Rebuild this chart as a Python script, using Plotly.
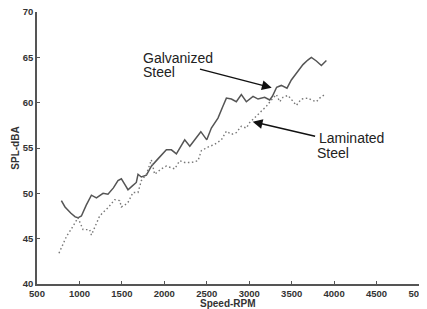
import plotly.graph_objects as go

# Galvanized steel (solid)
galv_rpm = [787, 830, 900, 950, 983, 1023, 1080, 1141, 1200, 1278, 1336, 1400, 1454, 1494,
            1534, 1572, 1620, 1670, 1690, 1729, 1789, 1847, 1925, 2024, 2083, 2142, 2240,
            2300, 2430, 2500, 2554, 2632, 2690, 2731, 2790, 2848, 2907, 2966, 3045, 3104,
            3182, 3241, 3273, 3323, 3378, 3445, 3496, 3555, 3633, 3690, 3732, 3791, 3850, 3909]
galv_db = [49.2, 48.5, 47.8, 47.4, 47.3, 47.5, 48.7, 49.8, 49.5, 50.0, 49.9, 50.6, 51.4, 51.6,
           51.0, 50.4, 50.8, 51.2, 52.1, 51.8, 52.0, 53.0, 53.8, 54.8, 54.8, 54.35, 55.9,
           55.2, 56.8, 55.9, 57.2, 58.3, 59.6, 60.5, 60.4, 60.1, 60.9, 60.1, 60.7, 60.4,
           60.6, 60.3, 60.7, 61.7, 61.9, 61.6, 62.5, 63.2, 64.2, 64.7, 65.0, 64.6, 64.1, 64.65]

# Laminated steel (dotted)
lam_rpm = [759, 800, 850, 900, 950, 983, 1042, 1080, 1120, 1141, 1190, 1238, 1290, 1336,
           1380, 1415, 1474, 1494, 1535, 1572, 1631, 1690, 1729, 1789, 1847, 1886, 1965,
           2024, 2122, 2181, 2240, 2319, 2397, 2436, 2514, 2593, 2672, 2731, 2790, 2848,
           2907, 2966, 3005, 3084, 3143, 3202, 3261, 3320, 3359, 3398, 3457, 3496, 3555,
           3614, 3692, 3732, 3791, 3830, 3889]
lam_db = [43.4, 44.3, 45.3, 46.0, 46.8, 47.3, 46.0, 46.0, 46.0, 45.4, 46.5, 47.5, 48.0, 48.4,
          48.9, 49.3, 49.2, 48.5, 48.7, 49.0, 50.1, 50.1, 51.4, 52.1, 53.7, 52.1, 52.7,
          53.0, 52.7, 53.6, 53.4, 53.4, 53.6, 54.7, 55.1, 55.4, 55.9, 56.85, 56.5, 56.7,
          57.4, 57.2, 57.8, 58.5, 59.0, 59.6, 60.3, 60.9, 60.1, 60.6, 60.8, 60.4, 59.7,
          60.4, 60.5, 60.3, 60.1, 60.5, 60.9]

x_ticks = [500, 1000, 1500, 2000, 2500, 3000, 3500, 4000, 4500, 5000]
y_ticks = [40, 45, 50, 55, 60, 65, 70]

fig = go.Figure()
fig.add_trace(go.Scatter(x=galv_rpm, y=galv_db, mode="lines",
                         line=dict(color="#555555", width=1.5), showlegend=False))
fig.add_trace(go.Scatter(x=lam_rpm, y=lam_db, mode="lines",
                         line=dict(color="#777777", width=1.4, dash="1.5px,2.5px"),
                         showlegend=False))

label_font = dict(family="Liberation Sans, Arial", size=14, color="#222222")
tick_font = dict(family="Liberation Sans, Arial", size=9.5, color="#333333", weight="bold")
title_font = dict(family="Liberation Sans, Arial", size=10, color="#333333", weight="bold")
arrow_common = dict(xref="x", yref="y", axref="x", ayref="y", text="", showarrow=True,
                    arrowhead=2, arrowsize=1.4, arrowwidth=1.4, arrowcolor="#111111")
annotations = [
    dict(x=1730, y=64.9, text="Galvanized", xanchor="left", yanchor="middle",
         showarrow=False, font=label_font),
    dict(x=1730, y=63.35, text="Steel", xanchor="left", yanchor="middle",
         showarrow=False, font=label_font),
    dict(x=3794, y=56.1, text="Laminated", xanchor="left", yanchor="middle",
         showarrow=False, font=label_font),
    dict(x=3771, y=54.45, text="Steel", xanchor="left", yanchor="middle",
         showarrow=False, font=label_font),
    dict(x=3265, y=61.65, ax=2402, ay=63.74, **arrow_common),
    dict(x=3041, y=57.9, ax=3794, ay=56.26, **arrow_common),
    # x-axis title
    dict(x=0.5, y=-0.073, xref="paper", yref="paper", text="Speed-RPM", showarrow=False,
         xanchor="center", yanchor="middle", font=title_font),
]

# page body has an 8px default margin, so the figure is offset by 8px
fig.update_layout(
    width=419, height=301,
    margin=dict(l=29, r=8, t=4, b=25),
    paper_bgcolor="white", plot_bgcolor="white",
    annotations=annotations,
    xaxis=dict(range=[500, 5000], tickvals=x_ticks, ticks="inside", ticklen=3,
               tickcolor="#555555", showgrid=False, zeroline=False, showline=True,
               linecolor="#555555", linewidth=1.5, tickfont=tick_font,
               automargin=False, ticklabeloverflow="allow"),
    yaxis=dict(range=[40, 70], tickvals=y_ticks, ticks="inside", ticklen=3,
               tickcolor="#555555", showgrid=False, zeroline=False, showline=True,
               linecolor="#555555", linewidth=1.5, tickfont=tick_font,
               automargin=False, ticklabeloverflow="allow",
               title=dict(text="SPL-dBA", font=title_font, standoff=1)),
)

fig.write_html("out.html")
